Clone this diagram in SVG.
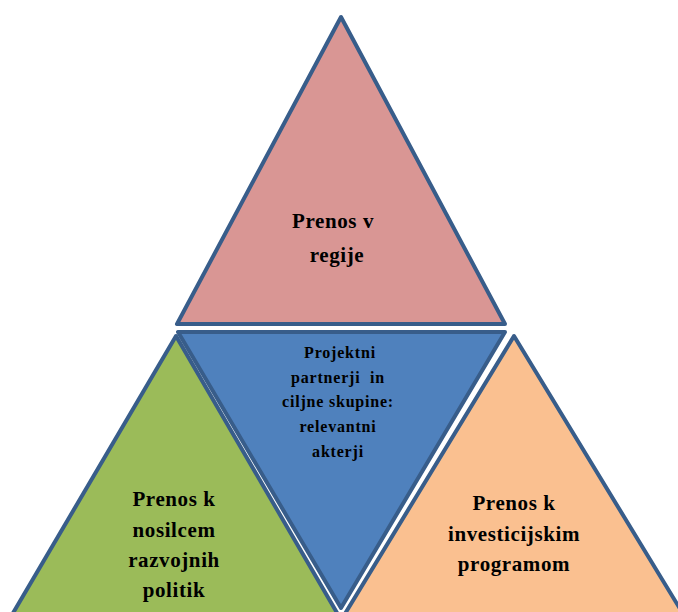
<svg xmlns="http://www.w3.org/2000/svg" width="678" height="612" viewBox="0 0 678 612">
<style>
.tri{stroke:#385d8a;stroke-width:4;stroke-linejoin:round}
.big{font-family:"Liberation Serif","Times New Roman",serif;font-weight:bold;font-size:21px;fill:#000;text-anchor:middle;letter-spacing:0.6px}
.small{font-family:"Liberation Serif","Times New Roman",serif;font-weight:bold;font-size:16px;fill:#000;text-anchor:middle;letter-spacing:0.8px}
</style>
<rect width="678" height="612" fill="#fff"/>
<g id="top">
<polygon class="tri" fill="#d99694" points="341,17 177,324 505,324"/>
<text class="big"><tspan x="333" y="228">Prenos v</tspan><tspan x="337" y="262">regije</tspan></text>
</g>
<g id="left">
<polygon class="tri" fill="#9bbb59" points="176,336 -4,642 354,642"/>
<text class="big"><tspan x="174" y="506">Prenos k</tspan><tspan x="174" y="537">nosilcem</tspan><tspan x="174" y="567">razvojnih</tspan><tspan x="174" y="597">politik</tspan></text>
</g>
<g id="right">
<polygon class="tri" fill="#fac090" points="514,336 329,640 699,640"/>
<text class="big"><tspan x="514" y="510">Prenos k</tspan><tspan x="514" y="541">investicijskim</tspan><tspan x="514" y="571">programom</tspan></text>
</g>
<g id="center">
<polygon class="tri" fill="#4f81bd" points="178,332 505,332 341,608"/>
<text class="small"><tspan x="340" y="358">Projektni</tspan><tspan x="338" y="383">partnerji&#160; in</tspan><tspan x="338" y="407">ciljne skupine:</tspan><tspan x="338" y="432">relevantni</tspan><tspan x="338" y="457">akterji</tspan></text>
</g>
<g id="connectors"></g>
</svg>
